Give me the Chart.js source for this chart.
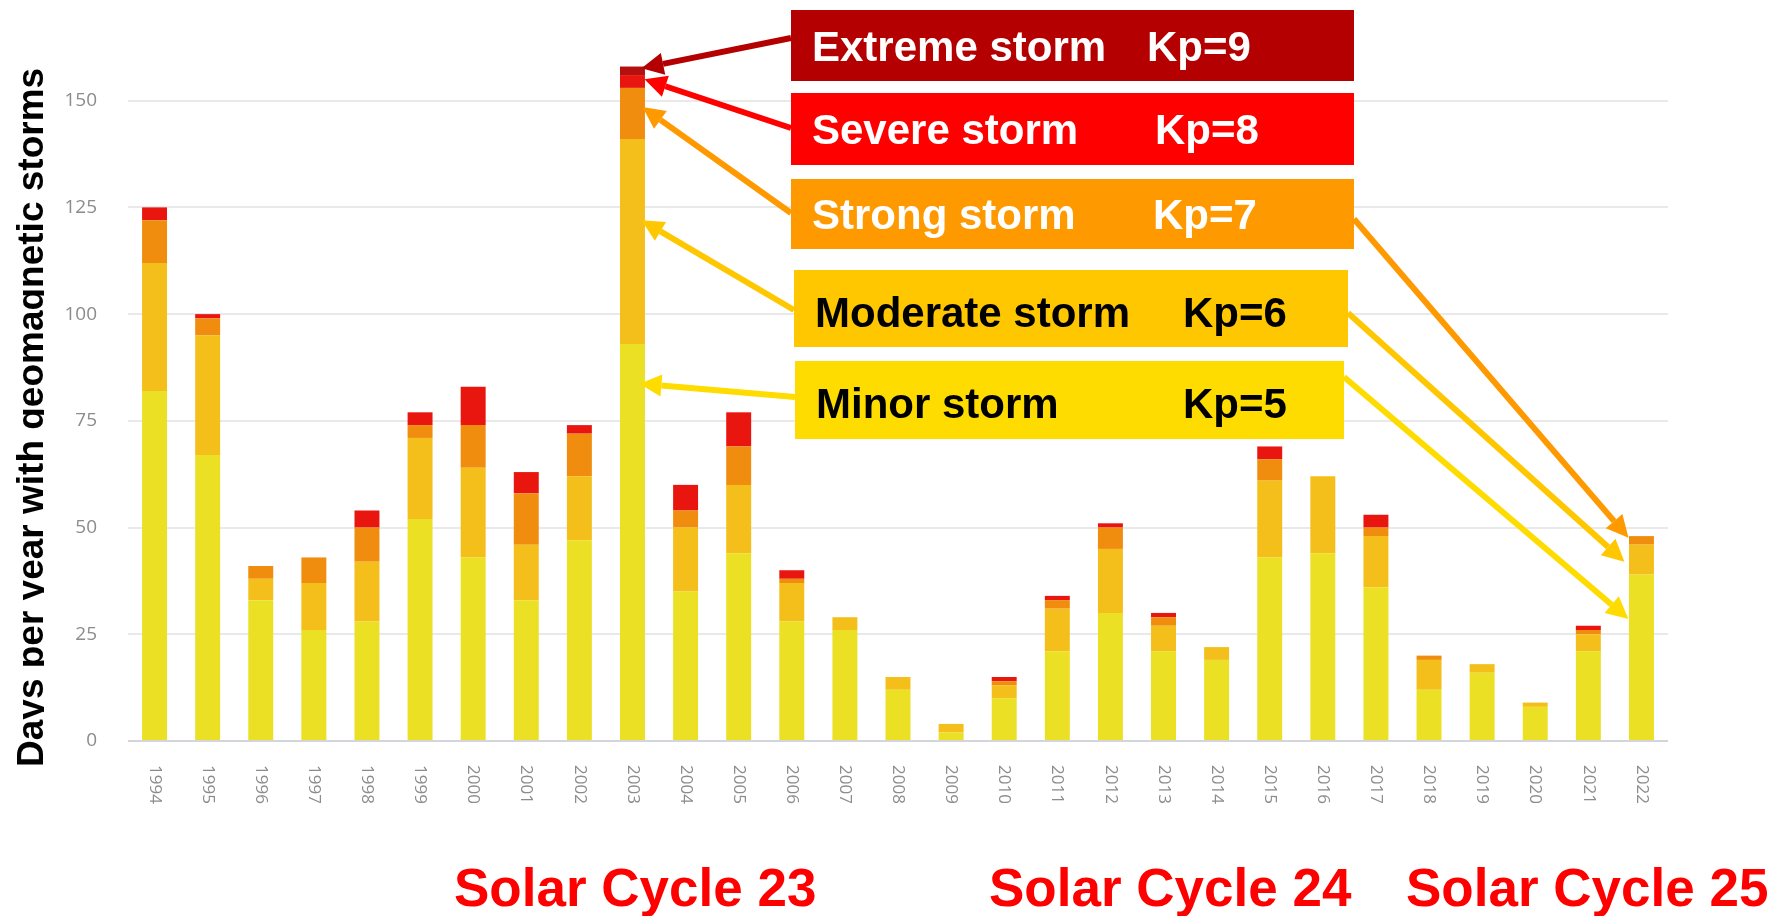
<!DOCTYPE html>
<html>
<head>
<meta charset="utf-8">
<title>Geomagnetic storm days per year</title>
<script src="https://cdn.jsdelivr.net/npm/chart.js@4.4.1/dist/chart.umd.min.js"></script>
<style>
    html, body { margin: 0; padding: 0; background: #ffffff; }
    #wrap { position: relative; width: 1773px; height: 916px; }
</style>
</head>
<body>
<div id="wrap"><canvas id="storm_chart"></canvas></div>
<script>
// Days per year with geomagnetic storms, split by storm level (stacked)
const years = ['1994', '1995', '1996', '1997', '1998', '1999', '2000', '2001', '2002', '2003',
               '2004', '2005', '2006', '2007', '2008', '2009', '2010', '2011', '2012', '2013',
               '2014', '2015', '2016', '2017', '2018', '2019', '2020', '2021', '2022'];

const minor_storm    = [82, 67, 33, 26, 28, 52, 43, 33, 47, 93, 35, 44, 28, 26, 12, 2, 10, 21, 30, 21, 19, 43, 44, 36, 12, 16, 8, 21, 39];
const moderate_storm = [30, 28,  5, 11, 14, 19, 21, 13, 15, 48, 15, 16,  9,  3,  3, 2,  3, 10, 15,  6,  3, 18, 18, 12,  7,  2, 1,  4,  7];
const strong_storm   = [10,  4,  3,  6,  8,  3, 10, 12, 10, 12,  4,  9,  1,  0,  0, 0,  1,  2,  5,  2,  0,  5,  0,  2,  1,  0, 0,  1,  2];
const severe_storm   = [ 3,  1,  0,  0,  4,  3,  9,  5,  2,  3,  6,  8,  2,  0,  0, 0,  1,  1,  1,  1,  0,  3,  0,  3,  0,  0, 0,  1,  0];
const extreme_storm  = [ 0,  0,  0,  0,  0,  0,  0,  0,  0,  2,  0,  0,  0,  0,  0, 0,  0,  0,  0,  0,  0,  0,  0,  0,  0,  0, 0,  0,  0];

const y_ticks = [0, 25, 50, 75, 100, 125, 150];

const cycle_labels = ['Solar Cycle 23', 'Solar Cycle 24', 'Solar Cycle 25'];

// Legend boxes on the chart, with the bars each arrow points to
const storm_boxes = [
    { name: 'Extreme storm',  kp: 'Kp=9', fill: '#b40000', text: '#ffffff', left: 791, right: 1354, top: 10,  bottom: 81,  kp_x: 1147, base: 61,
      arrows: [{ from: [791, 38], year: '2003', value: 157.6, dx: 9 }] },
    { name: 'Severe storm',   kp: 'Kp=8', fill: '#ff0000', text: '#ffffff', left: 791, right: 1354, top: 93,  bottom: 165, kp_x: 1155, base: 144,
      arrows: [{ from: [791, 128], year: '2003', value: 155, dx: 12 }] },
    { name: 'Strong storm',   kp: 'Kp=7', fill: '#ff9900', text: '#ffffff', left: 791, right: 1354, top: 179, bottom: 249, kp_x: 1153, base: 229,
      arrows: [{ from: [791, 213], year: '2003', value: 148.5, dx: 10 },
               { from: [1354, 219], year: '2022', value: 47.6, dx: -13 }] },
    { name: 'Moderate storm', kp: 'Kp=6', fill: '#ffc700', text: '#000000', left: 794, right: 1348, top: 270, bottom: 347, kp_x: 1183, base: 327,
      arrows: [{ from: [794, 310], year: '2003', value: 122, dx: 9 },
               { from: [1348, 313], year: '2022', value: 42, dx: -17 }] },
    { name: 'Minor storm',    kp: 'Kp=5', fill: '#ffdc00', text: '#000000', left: 795, right: 1344, top: 361, bottom: 439, kp_x: 1183, base: 418,
      arrows: [{ from: [795, 397], year: '2003', value: 83.7, dx: 7 },
               { from: [1344, 377], year: '2022', value: 28.6, dx: -13 }] }
];

function draw_arrow(ctx, x1, y1, x2, y2, color) {
    const ang = Math.atan2(y2 - y1, x2 - x1);
    const head = 22, half = 11;
    const bx = x2 - head * Math.cos(ang);
    const by = y2 - head * Math.sin(ang);
    ctx.strokeStyle = color;
    ctx.lineWidth = 6;
    ctx.beginPath();
    ctx.moveTo(x1, y1);
    ctx.lineTo(bx, by);
    ctx.stroke();
    ctx.fillStyle = color;
    ctx.beginPath();
    ctx.moveTo(x2, y2);
    ctx.lineTo(bx + half * Math.sin(ang), by - half * Math.cos(ang));
    ctx.lineTo(bx - half * Math.sin(ang), by + half * Math.cos(ang));
    ctx.closePath();
    ctx.fill();
}

const storm_notes = {
    id: 'storm_notes',
    afterDraw(chart) {
        const ctx = chart.ctx;
        const xs = chart.scales.x;
        const ys = chart.scales.y;

        // year labels, turned clockwise
        ctx.save();
        ctx.fillStyle = '#8c8c8c';
        ctx.font = '17px "Open Sans", "DejaVu Sans", sans-serif';
        ctx.textAlign = 'left';
        ctx.textBaseline = 'middle';
        years.forEach((yr, i) => {
            ctx.save();
            ctx.translate(xs.getPixelForValue(i), 765);
            ctx.rotate(Math.PI / 2);
            ctx.fillText(yr, 0, 0);
            ctx.restore();
        });
        ctx.restore();

        // y axis title (descenders cut off as in the source)
        ctx.save();
        ctx.beginPath();
        ctx.rect(0, 0, 44, 916);
        ctx.clip();
        ctx.translate(43, 767);
        ctx.rotate(-Math.PI / 2);
        ctx.fillStyle = '#000000';
        ctx.font = 'bold 37px "Liberation Sans", Arial, sans-serif';
        ctx.textAlign = 'left';
        ctx.textBaseline = 'alphabetic';
        ctx.fillText('Days per year with geomagnetic storms', 0, 0);
        ctx.restore();

        // arrows, then the boxes
        ctx.save();
        storm_boxes.forEach(box => {
            box.arrows.forEach(a => {
                const tx = xs.getPixelForValue(years.indexOf(a.year)) + a.dx;
                const ty = ys.getPixelForValue(a.value);
                draw_arrow(ctx, a.from[0], a.from[1], tx, ty, box.fill);
            });
        });
        storm_boxes.forEach(box => {
            ctx.fillStyle = box.fill;
            ctx.fillRect(box.left, box.top, box.right - box.left, box.bottom - box.top);
            ctx.fillStyle = box.text;
            ctx.font = 'bold 42px "Liberation Sans", Arial, sans-serif';
            ctx.textAlign = 'left';
            ctx.textBaseline = 'alphabetic';
            ctx.fillText(box.name, box.left + 21, box.base);
            ctx.fillText(box.kp, box.kp_x, box.base);
        });
        ctx.restore();

        // solar cycle captions
        ctx.save();
        ctx.fillStyle = '#ff0000';
        ctx.font = 'bold 53px "Liberation Sans", Arial, sans-serif';
        ctx.textBaseline = 'alphabetic';
        const cycle_x = [454, 989, 1406];
        cycle_labels.forEach((t, i) => ctx.fillText(t, cycle_x[i], 906));
        ctx.restore();
    }
};

const ctx = document.getElementById('storm_chart').getContext('2d');
const storm_chart = new Chart(ctx, {
    type: 'bar',
    data: {
        labels: years,
        datasets: [
            { label: 'Minor storm',    data: minor_storm,    backgroundColor: '#ebe024' },
            { label: 'Moderate storm', data: moderate_storm, backgroundColor: '#f4bf1a' },
            { label: 'Strong storm',   data: strong_storm,   backgroundColor: '#f08c0e' },
            { label: 'Severe storm',   data: severe_storm,   backgroundColor: '#e8160f' },
            { label: 'Extreme storm',  data: extreme_storm,  backgroundColor: '#b3100f' }
        ]
    },
    options: {
        responsive: true,
        maintainAspectRatio: false,
        animation: false,
        layout: { padding: { top: 58, right: 105, left: 0, bottom: 0 } },
        datasets: { bar: { barPercentage: 0.47, categoryPercentage: 1.0, borderWidth: 0 } },
        plugins: {
            legend: { display: false },
            tooltip: { enabled: false }
        },
        scales: {
            x: {
                stacked: true,
                grid: { display: false },
                border: { display: false },
                ticks: { display: false },
                afterFit: scale => { scale.height = 175; }
            },
            y: {
                stacked: true,
                min: 0,
                max: 160,
                afterBuildTicks: scale => { scale.ticks = y_ticks.map(v => ({ value: v })); },
                afterFit: scale => { scale.width = 128; },
                border: { display: false },
                grid: {
                    drawTicks: false,
                    lineWidth: 2,
                    color: c => (c.tick && c.tick.value === 0) ? '#d2d5dc' : '#e9e9e9'
                },
                ticks: {
                    padding: 31,
                    color: '#8c8c8c',
                    font: { family: '"Open Sans", "DejaVu Sans", sans-serif', size: 19 }
                }
            }
        }
    },
    plugins: [storm_notes]
});
</script>
</body>
</html>
